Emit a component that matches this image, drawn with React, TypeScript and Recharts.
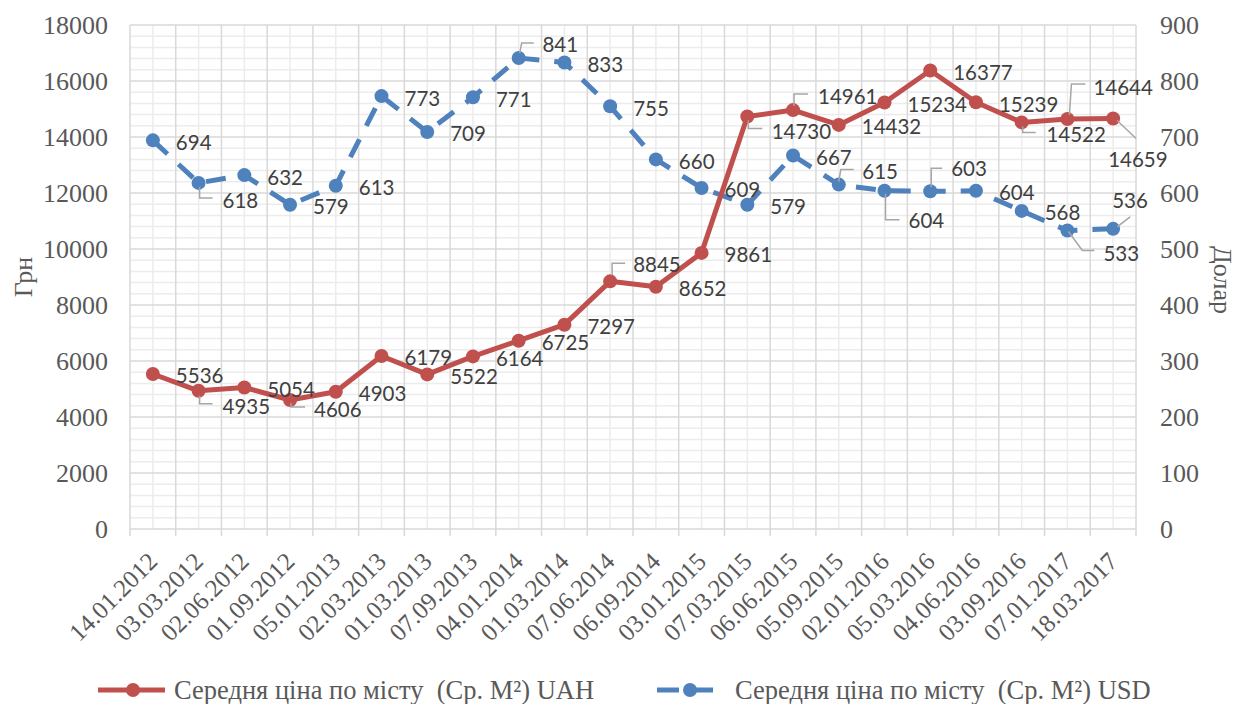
import { LineChart, Line, XAxis, YAxis, CartesianGrid, LabelList, Legend } from 'recharts';

const dates = [
  '14.01.2012', '03.03.2012', '02.06.2012', '01.09.2012', '05.01.2013', '02.03.2013',
  '01.03.2013', '07.09.2013', '04.01.2014', '01.03.2014', '07.06.2014', '06.09.2014',
  '03.01.2015', '07.03.2015', '06.06.2015', '05.09.2015', '02.01.2016', '05.03.2016',
  '04.06.2016', '03.09.2016', '07.01.2017', '18.03.2017',
];

const uah = [
  5536, 4935, 5054, 4606, 4903, 6179, 5522, 6164, 6725, 7297, 8845,
  8652, 9861, 14730, 14961, 14432, 15234, 16377, 15239, 14522, 14644, 14659,
];

const usd = [
  694, 618, 632, 579, 613, 773, 709, 771, 841, 833, 755,
  660, 609, 579, 667, 615, 604, 603, 604, 568, 533, 536,
];

const uahTicks = Array.from({ length: 46 }, (_, i) => i * 400);
const usdTicks = [0, 100, 200, 300, 400, 500, 600, 700, 800, 900];

const UAH_NAME = 'Середня ціна по місту  (Ср. М²) UAH';
const USD_NAME = 'Середня ціна по місту  (Ср. М²) USD';

const RED = '#C0504D';
const BLUE = '#4F81BD';
const AXIS_TEXT = '#595959';
const SERIF = '"Liberation Serif", "Times New Roman", serif';
const LABEL_FONT = 'Lato, "Liberation Sans", sans-serif';

// label nudges (Excel moved some labels and drew leader lines)
type Move = { dx: number; dy: number; leader?: number[][] };
const DEFAULT_MOVE: Move = { dx: 23, dy: 1.5 };

const uahMoves: Record<number, Move> = {
  1: { dx: 24, dy: 15.5, leader: [[1, 5], [1, 13], [14, 13]] },
  3: { dx: 24, dy: 8.6, leader: [[1, 3], [1, 7], [15, 7]] },
  10: { dx: 23, dy: -17, leader: [[2, -6], [2, -18], [15, -18]] },
  13: { dx: 24.4, dy: 14.4, leader: [[1, 4], [1, 12], [15, 12]] },
  14: { dx: 25, dy: -14, leader: [[1, -4], [1, -16], [15, -16]] },
  19: { dx: 24.7, dy: 12, leader: [[1, 4], [1, 10], [14, 10]] },
  20: { dx: 26, dy: -32, leader: [[2, -4], [4, -35], [18, -35]] },
  21: { dx: -5, dy: 40, leader: [[4, 2], [23, 20]] },
};

const usdMoves: Record<number, Move> = {
  1: { dx: 24, dy: 17.4, leader: [[1, 4], [1, 15], [14, 15]] },
  8: { dx: 23.7, dy: -13.7, leader: [[1, -5], [3, -15], [15, -15]] },
  15: { dx: 23.5, dy: -13.3, leader: [[0, -3], [2, -15], [15, -15]] },
  16: { dx: 24, dy: 29.5, leader: [[1, 3], [1, 29], [15, 29]] },
  17: { dx: 21, dy: -23, leader: [[1, -4], [1, -23], [12, -23]] },
  20: { dx: 36, dy: 22, leader: [[1, 1], [15, 20], [27, 20]] },
  21: { dx: -1, dy: -29, leader: [[4, -2], [17, -12]] },
};

const data = dates.map((d, i) => ({ idx: i, date: d, uah: uah[i], usd: usd[i] }));
const xTicks = dates.flatMap((_, i) => [i - 0.5, i]).concat(dates.length - 0.5);

const makeLabel = (moves: Record<number, Move>) => (props: any) => {
  const x = props.viewBox?.x ?? props.x;
  const y = props.viewBox?.y ?? props.y;
  const m = moves[props.index] ?? DEFAULT_MOVE;
  return (
    <g key={`lbl-${props.index}`}>
      {m.leader && (
        <polyline
          points={m.leader.map(([a, b]) => `${x + a},${y + b}`).join(' ')}
          fill="none"
          stroke="#A6A6A6"
          strokeWidth={1.5}
        />
      )}
      <text x={x + m.dx} y={y + m.dy} dominantBaseline="central" fontSize={20.5} fontFamily={LABEL_FONT} fill="#404040">
        {props.value}
      </text>
    </g>
  );
};

// every 5th horizontal line and every other vertical line is a major one
const gridLines = (major: boolean, every: number) => (p: any) => {
  if ((p.index % every === 0) !== major) return null;
  return (
    <line
      key={p.key}
      x1={p.x1}
      y1={p.y1}
      x2={p.x2}
      y2={p.y2}
      stroke={major ? '#D9D9D9' : '#ECECEC'}
      strokeWidth={1.5}
    />
  );
};

const DateTick = (p: any) => {
  const v = p.payload.value;
  if (!Number.isInteger(v)) {
    return <line x1={p.x} y1={p.y} x2={p.x} y2={p.y + 7} stroke="#D9D9D9" strokeWidth={1.5} />;
  }
  const tx = p.x + 6;
  const ty = p.y + 34;
  return (
    <text x={tx} y={ty} transform={`rotate(-45, ${tx}, ${ty})`} textAnchor="end" fontSize={25} fontFamily={SERIF} fill={AXIS_TEXT}>
      {dates[v]}
    </text>
  );
};

const UahTick = (p: any) => {
  if (p.payload.value % 2000 !== 0) return <g />;
  return (
    <text x={p.x} y={p.y} textAnchor="end" dominantBaseline="central" fontSize={26} fontFamily={SERIF} fill={AXIS_TEXT}>
      {p.payload.value}
    </text>
  );
};

const renderLegend = (props: any) => {
  const items = props.payload ?? [];
  const red = items.find((it: any) => it.dataKey === 'uah');
  const blue = items.find((it: any) => it.dataKey === 'usd');
  return (
    <svg width={1236} height={36}>
      <line x1={98} x2={165} y1={18} y2={18} stroke={RED} strokeWidth={5} />
      <circle cx={133} cy={18} r={7} fill={RED} />
      <text x={174} y={18} dominantBaseline="central" fontSize={26.5} fontFamily={SERIF} fill={AXIS_TEXT} style={{ whiteSpace: 'pre' }}>
        {red?.value ?? UAH_NAME}
      </text>
      <line x1={657} x2={723} y1={18} y2={18} stroke={BLUE} strokeWidth={5} strokeDasharray="22 12" />
      <circle cx={690} cy={18} r={7} fill={BLUE} />
      <text x={735} y={18} dominantBaseline="central" fontSize={26.5} fontFamily={SERIF} fill={AXIS_TEXT} style={{ whiteSpace: 'pre' }}>
        {blue?.value ?? USD_NAME}
      </text>
    </svg>
  );
};

export default function App() {
  return (
    <div style={{ position: 'absolute', left: 0, top: 0, width: 1236, height: 704, background: '#fff' }}>
      <LineChart width={1236} height={704} data={data} margin={{ top: 25, right: 0, bottom: 0, left: 0 }}>
        <CartesianGrid yAxisId="left" syncWithTicks horizontal={gridLines(false, 5)} vertical={gridLines(false, 2)} />
        <CartesianGrid yAxisId="left" syncWithTicks horizontal={gridLines(true, 5)} vertical={gridLines(true, 2)} />
        <XAxis
          dataKey="idx"
          type="number"
          domain={[-0.5, dates.length - 0.5]}
          ticks={xTicks}
          interval={0}
          height={175}
          axisLine={false}
          tickLine={false}
          tickSize={0}
          tickMargin={0}
          tick={DateTick}
        />
        <YAxis
          yAxisId="left"
          domain={[0, 18000]}
          ticks={uahTicks}
          interval={0}
          width={130}
          axisLine={false}
          tickLine={false}
          tickSize={0}
          tickMargin={22}
          tick={UahTick}
          label={(p: any) => {
            const vb = p.viewBox;
            const cx = vb.x + 23;
            const cy = vb.y + vb.height / 2;
            return (
              <text x={cx} y={cy} transform={`rotate(-90, ${cx}, ${cy})`} textAnchor="middle" dominantBaseline="central" fontSize={26} fontFamily={SERIF} fill={AXIS_TEXT}>
                Грн
              </text>
            );
          }}
        />
        <YAxis
          yAxisId="right"
          orientation="right"
          domain={[0, 900]}
          ticks={usdTicks}
          interval={0}
          width={100}
          axisLine={false}
          tickLine={false}
          tickSize={0}
          tickMargin={24}
          tick={{ fill: AXIS_TEXT, fontSize: 26, fontFamily: SERIF }}
          label={(p: any) => {
            const vb = p.viewBox;
            const cx = vb.x + 86;
            const cy = vb.y + vb.height / 2 + 3;
            return (
              <text x={cx} y={cy} transform={`rotate(90, ${cx}, ${cy})`} textAnchor="middle" dominantBaseline="central" fontSize={26} fontFamily={SERIF} fill={AXIS_TEXT}>
                Долар
              </text>
            );
          }}
        />
        <Legend
          verticalAlign="middle"
          align="center"
          layout="horizontal"
          wrapperStyle={{ top: 672, left: 0, width: 1236 }}
          content={renderLegend}
        />
        <Line
          yAxisId="right"
          dataKey="usd"
          name={USD_NAME}
          stroke={BLUE}
          strokeWidth={5}
          strokeDasharray="20 15"
          dot={{ r: 7, fill: BLUE, stroke: 'none' }}
          activeDot={false}
          isAnimationActive={false}
        >
          <LabelList dataKey="usd" content={makeLabel(usdMoves)} />
        </Line>
        <Line
          yAxisId="left"
          dataKey="uah"
          name={UAH_NAME}
          stroke={RED}
          strokeWidth={5}
          strokeLinejoin="round"
          dot={{ r: 7, fill: RED, stroke: 'none' }}
          activeDot={false}
          isAnimationActive={false}
        >
          <LabelList dataKey="uah" content={makeLabel(uahMoves)} />
        </Line>
      </LineChart>
    </div>
  );
}
